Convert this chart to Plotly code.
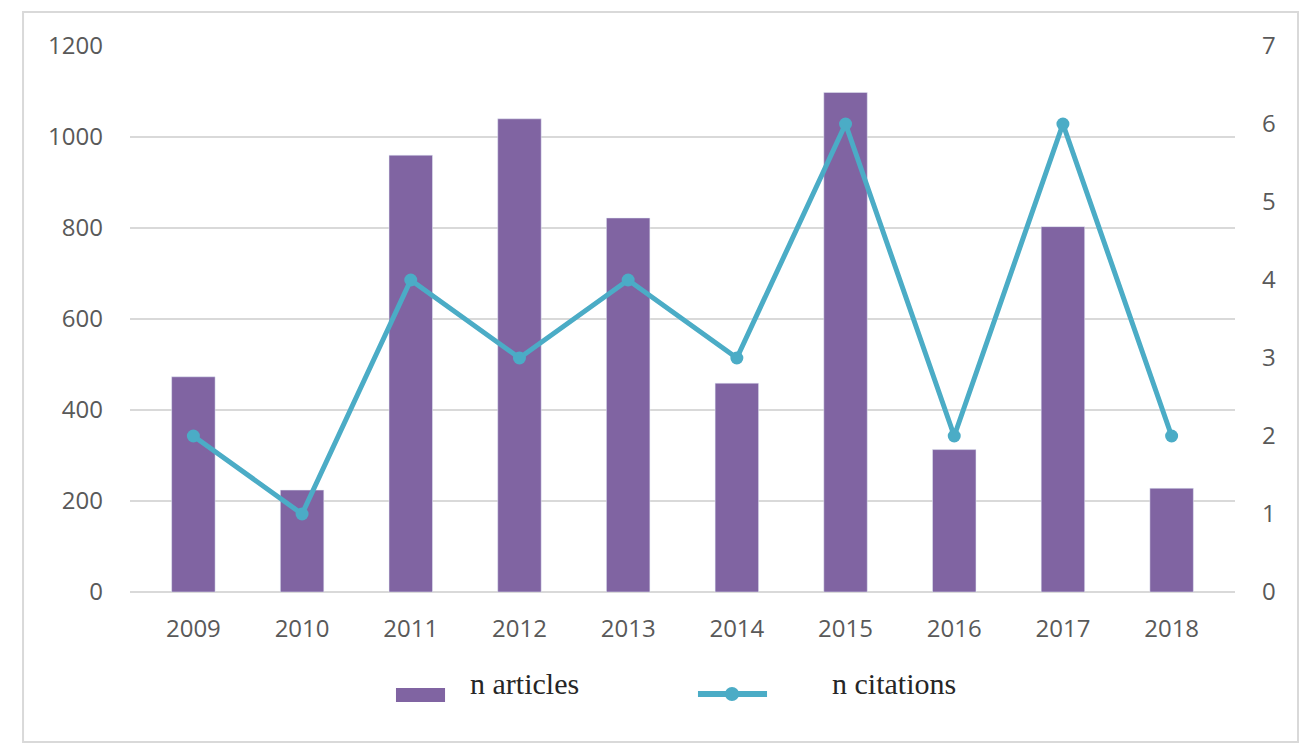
import plotly.graph_objects as go

years = ["2009", "2010", "2011", "2012", "2013", "2014", "2015", "2016", "2017", "2018"]
n_articles = [473, 224, 960, 1040, 822, 459, 1098, 313, 803, 228]
n_citations = [2, 1, 4, 3, 4, 3, 6, 2, 6, 2]
left_ticks = [0, 200, 400, 600, 800, 1000, 1200]
right_ticks = [0, 1, 2, 3, 4, 5, 6, 7]

BAR = "#8064a2"
LINE = "#4bacc6"
GRID = "#d9d9d9"
TICKFONT = dict(family="Open Sans", size=24, color="#595959")

fig = go.Figure()
fig.add_trace(go.Bar(x=years, y=n_articles, name="n articles", marker_color=BAR,
                     showlegend=False))
fig.add_trace(go.Scatter(x=years, y=n_citations, name="n citations", yaxis="y2",
                         mode="lines+markers", line=dict(color=LINE, width=5),
                         marker=dict(color=LINE, size=13), showlegend=False))

fig.update_layout(
    width=1316, height=755,
    margin=dict(l=130, r=81, t=46, b=163),
    paper_bgcolor="white", plot_bgcolor="white",
    bargap=0.6,
    xaxis=dict(type="category", showgrid=False, zeroline=False, showline=False,
               tickfont=TICKFONT, ticklabelstandoff=20),
    yaxis=dict(range=[0, 1200], tickvals=left_ticks, showgrid=True, gridcolor=GRID,
               gridwidth=2, zeroline=True, zerolinecolor=GRID, zerolinewidth=2,
               showline=False, tickfont=TICKFONT, ticklabelstandoff=26),
    yaxis2=dict(range=[0, 7], tickvals=right_ticks, overlaying="y", side="right",
                showgrid=False, zeroline=False, showline=False, tickfont=TICKFONT,
                ticklabelstandoff=26),
    showlegend=False,
)

# outer chart border
fig.add_shape(type="rect", xref="paper", yref="paper",
              x0=-0.0968, x1=1.057, y0=-0.2747, y1=1.0623,
              line=dict(color=GRID, width=2), fillcolor="rgba(0,0,0,0)", layer="below")

# manual legend
fig.add_shape(type="rect", xref="paper", yref="paper",
              x0=0.2407, x1=0.2851, y0=-0.2015, y1=-0.1758,
              fillcolor=BAR, line=dict(width=0))
fig.add_annotation(xref="paper", yref="paper", x=0.3059, y=-0.1667, xanchor="left",
                   yanchor="middle", showarrow=False, text="n articles",
                   font=dict(family="Liberation Serif", size=30, color="#262626"))
fig.add_shape(type="line", xref="paper", yref="paper",
              x0=0.514, x1=0.5765, y0=-0.1868, y1=-0.1868,
              line=dict(color=LINE, width=6))
fig.add_shape(type="circle", xref="paper", yref="paper",
              x0=0.5448 - 0.0064, x1=0.5448 + 0.0064,
              y0=-0.1868 - 0.0128, y1=-0.1868 + 0.0128,
              fillcolor=LINE, line=dict(width=0))
fig.add_annotation(xref="paper", yref="paper", x=0.6335, y=-0.1667, xanchor="left",
                   yanchor="middle", showarrow=False, text="n citations",
                   font=dict(family="Liberation Serif", size=30, color="#262626"))

fig.write_html("out.html")
